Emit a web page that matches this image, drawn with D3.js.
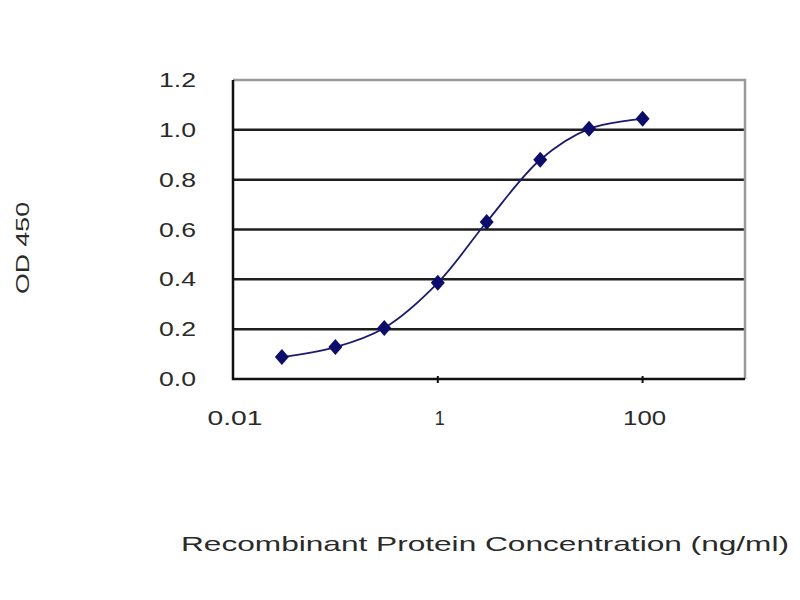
<!DOCTYPE html>
<html>
<head>
<meta charset="utf-8">
<script src="https://cdn.jsdelivr.net/npm/d3@7"></script>
<style>
  body { margin: 0; background: #fff; }
  text { font-family: "Liberation Sans", Arial, sans-serif; fill: #2a2a2a; }
</style>
</head>
<body>
<div id="chart"></div>
<script>

// concentration (ng/ml) and OD 450
var concentrations = [0.03, 0.1, 0.3, 1, 3, 10, 30, 100];
var odValues = [0.088, 0.128, 0.205, 0.386, 0.63, 0.88, 1.004, 1.044];
var yTicks = [0, 0.2, 0.4, 0.6, 0.8, 1.0, 1.2];
var xTicks = [0.01, 1, 100];

var width = 800, height = 600;
var plot = {left: 233, right: 745, top: 80, bottom: 379};

var svg = d3.select("#chart").append("svg")
  .attr("width", width)
  .attr("height", height);

var x = d3.scaleLog()
  .domain([0.01, 1000])
  .range([plot.left, plot.right]);

var y = d3.scaleLinear()
  .domain([0, 1.2])
  .range([plot.bottom, plot.top]);

// horizontal gridlines
svg.selectAll(".grid")
  .data(yTicks.filter(function(d) { return d > 0 && d < 1.2; }))
  .enter().append("line")
  .attr("class", "grid")
  .attr("x1", plot.left)
  .attr("x2", plot.right)
  .attr("y1", function(d) { return y(d); })
  .attr("y2", function(d) { return y(d); })
  .style("stroke", "#1e1e1e")
  .style("stroke-width", 2.5);

// gray top and right border
svg.append("path")
  .attr("d", "M" + plot.left + "," + y(1.2) + "H" + plot.right + "V" + plot.bottom)
  .style("fill", "none")
  .style("stroke", "#9a9a9a")
  .style("stroke-width", 2.5);

// left and bottom axes
svg.append("path")
  .attr("d", "M" + plot.left + "," + y(1.2) + "V" + plot.bottom + "H" + plot.right)
  .style("fill", "none")
  .style("stroke", "#111")
  .style("stroke-width", 2.5);

// small tick marks on the x axis
svg.selectAll(".xtick")
  .data(xTicks.slice(1))
  .enter().append("line")
  .attr("x1", function(d) { return x(d); })
  .attr("x2", function(d) { return x(d); })
  .attr("y1", plot.bottom - 3)
  .attr("y2", plot.bottom + 4)
  .style("stroke", "#111")
  .style("stroke-width", 2);

// y tick labels
svg.selectAll(".ylabel")
  .data(yTicks)
  .enter().append("text")
  .attr("x", 196)
  .attr("y", function(d) { return y(d) + 7; })
  .attr("text-anchor", "end")
  .attr("textLength", 37)
  .attr("lengthAdjust", "spacingAndGlyphs")
  .style("font-size", "20px")
  .text(function(d) { return d.toFixed(1); });

// x tick labels
var xLabelWidth = {0.01: 55, 1: 10, 100: 43};
svg.selectAll(".xlabel")
  .data(xTicks)
  .enter().append("text")
  .attr("x", function(d) { return x(d) + 2; })
  .attr("y", 425)
  .attr("text-anchor", "middle")
  .attr("textLength", function(d) { return xLabelWidth[d]; })
  .attr("lengthAdjust", "spacingAndGlyphs")
  .style("font-size", "20px")
  .text(function(d) { return d; });

// axis titles
svg.append("text")
  .attr("transform", "translate(29,248) rotate(-90)")
  .attr("text-anchor", "middle")
  .attr("textLength", 92)
  .attr("lengthAdjust", "spacingAndGlyphs")
  .style("font-size", "19px")
  .text("OD 450");

svg.append("text")
  .attr("x", 485)
  .attr("y", 551)
  .attr("text-anchor", "middle")
  .attr("textLength", 608)
  .attr("lengthAdjust", "spacingAndGlyphs")
  .style("font-size", "21px")
  .text("Recombinant Protein Concentration (ng/ml)");

// smoothed line
var points = concentrations.map(function(c, i) { return [c, odValues[i]]; });

var line = d3.line()
  .x(function(d) { return x(d[0]); })
  .y(function(d) { return y(d[1]); })
  .curve(d3.curveCatmullRom.alpha(0.5));

svg.append("path")
  .datum(points)
  .attr("d", line)
  .style("fill", "none")
  .style("stroke", "#1a1a70")
  .style("stroke-width", 1.8);

// diamond markers
svg.selectAll(".marker")
  .data(points)
  .enter().append("path")
  .attr("class", "marker")
  .attr("transform", function(d) { return "translate(" + x(d[0]) + "," + y(d[1]) + ")"; })
  .attr("d", "M0,-8L7,0L0,8L-7,0Z")
  .style("fill", "#0c0c6a");

</script>
</body>
</html>
